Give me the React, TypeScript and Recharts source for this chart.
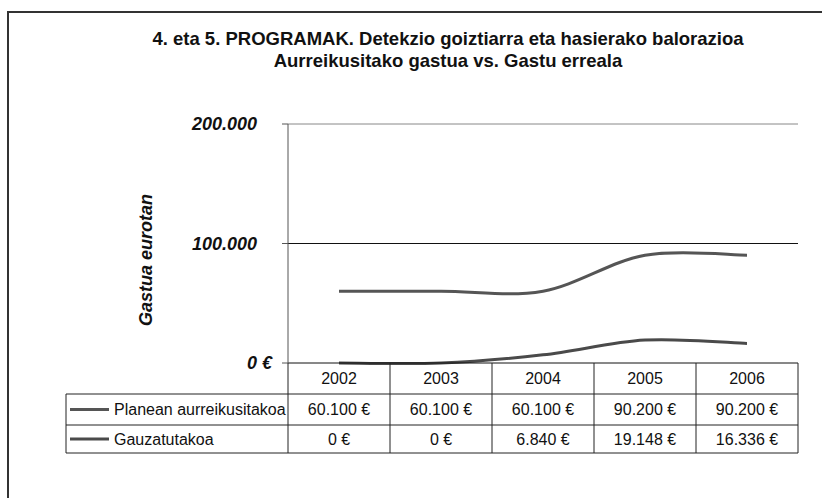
import React from "react";
import {
  LineChart,
  Line,
  XAxis,
  YAxis,
  ReferenceLine,
} from "recharts";

const years = ["2002", "2003", "2004", "2005", "2006"];
const planned = [60100, 60100, 60100, 90200, 90200];
const spent = [0, 0, 6840, 19148, 16336];
const yTicks = [0, 100000, 200000];

const seriesNames = ["Planean aurreikusitakoa", "Gauzatutakoa"];
const seriesColors = ["#555555", "#4a4a4a"];

const data = years.map((y, i) => ({
  year: y,
  planned: planned[i],
  spent: spent[i],
}));

const fmtEuro = (v: number) =>
  v.toLocaleString("de-DE").replace(/,/g, ".") + " €";

// excel style smoothed line (catmull-rom)
const excelSmooth = (context: any) => {
  let pts: number[][] = [];
  return {
    areaStart() {},
    areaEnd() {},
    lineStart() {
      pts = [];
    },
    point(x: number, y: number) {
      pts.push([+x, +y]);
    },
    lineEnd() {
      if (!pts.length) return;
      context.moveTo(pts[0][0], pts[0][1]);
      for (let i = 0; i < pts.length - 1; i++) {
        const p0 = pts[Math.max(i - 1, 0)];
        const p1 = pts[i];
        const p2 = pts[i + 1];
        const p3 = pts[Math.min(i + 2, pts.length - 1)];
        context.bezierCurveTo(
          p1[0] + (p2[0] - p0[0]) / 6,
          p1[1] + (p2[1] - p0[1]) / 6,
          p2[0] - (p3[0] - p1[0]) / 6,
          p2[1] - (p3[1] - p1[1]) / 6,
          p2[0],
          p2[1]
        );
      }
    },
  };
};

const font = "'Liberation Sans', Arial, Helvetica, sans-serif";

const YTick = (props: any) => {
  const { x, y, payload } = props;
  const v = payload.value;
  const label = v === 0 ? "0 €" : v.toLocaleString("de-DE").replace(/,/g, ".");
  return (
    <text
      x={v === 0 ? x : x - 15}
      y={y}
      dy="0.36em"
      textAnchor="end"
      fontFamily={font}
      fontSize={18}
      fontWeight="bold"
      fontStyle="italic"
      fill="#111"
    >
      {label}
    </text>
  );
};

const HEADER_H = 31;
const ROW1_H = 31;
const ROW2_H = 28;
const LABEL_W = 222;

// each x tick draws its column of the data table
const TableTick = (props: any) => {
  const { x, y, index } = props;
  const w = 102;
  const left = x - w / 2;
  const rows = [planned, spent];
  const r1 = y + HEADER_H;
  const r2 = r1 + ROW1_H;
  const r3 = r2 + ROW2_H;
  return (
    <g fontFamily={font} fontSize={16} fill="#111">
      <text x={x} y={y + HEADER_H / 2} dy="0.36em" textAnchor="middle">
        {years[index]}
      </text>
      {rows.map((vals, ri) => (
        <text
          key={ri}
          x={x}
          y={(ri === 0 ? r1 + ROW1_H / 2 : r2 + ROW2_H / 2)}
          dy="0.36em"
          textAnchor="middle"
        >
          {fmtEuro(vals[index])}
        </text>
      ))}
      <line x1={left + w} y1={y} x2={left + w} y2={r3} stroke="#222" />
      <line x1={left} y1={r1} x2={left + w} y2={r1} stroke="#222" />
      <line x1={left} y1={r2} x2={left + w} y2={r2} stroke="#222" />
      <line x1={left} y1={r3} x2={left + w} y2={r3} stroke="#222" />
      {index === 0 && (
        <g>
          <line x1={left} y1={y} x2={left} y2={r3} stroke="#222" />
          <line x1={left - LABEL_W} y1={r1} x2={left} y2={r1} stroke="#222" />
          <line x1={left - LABEL_W} y1={r2} x2={left} y2={r2} stroke="#222" />
          <line x1={left - LABEL_W} y1={r3} x2={left} y2={r3} stroke="#222" />
          <line x1={left - LABEL_W} y1={r1} x2={left - LABEL_W} y2={r3} stroke="#222" />
          {seriesNames.map((n, i) => {
            const cy = i === 0 ? r1 + ROW1_H / 2 : r2 + ROW2_H / 2;
            return (
              <g key={n}>
                <line
                  x1={left - LABEL_W + 4}
                  y1={cy}
                  x2={left - LABEL_W + 43}
                  y2={cy}
                  stroke={seriesColors[i]}
                  strokeWidth={3}
                />
                <text x={left - LABEL_W + 48} y={cy} dy="0.36em">
                  {n}
                </text>
              </g>
            );
          })}
        </g>
      )}
    </g>
  );
};

const App = () => {
  return (
    <div
      style={{
        position: "absolute",
        left: 0,
        top: 0,
        width: 822,
        height: 498,
        overflow: "hidden",
        background: "#fff",
      }}
    >
      <div
        style={{
          position: "absolute",
          left: 7,
          top: 11,
          width: 840,
          height: 520,
          border: "2px solid #333",
        }}
      />
      <div
        style={{
          position: "absolute",
          left: 0,
          top: 28,
          width: 896,
          textAlign: "center",
          fontFamily: font,
          fontWeight: "bold",
          fontSize: 18.5,
          lineHeight: "22px",
          color: "#111",
        }}
      >
        4. eta 5. PROGRAMAK. Detekzio goiztiarra eta hasierako balorazioa
        <br />
        Aurreikusitako gastua vs. Gastu erreala
      </div>
      <div style={{ position: "absolute", left: 0, top: 0 }}>
        <LineChart
          width={822}
          height={498}
          data={data}
          margin={{ top: 124, right: 24, left: 0, bottom: 35 }}
        >
          <XAxis
            dataKey="year"
            height={100}
            padding={{ left: 51, right: 51 }}
            axisLine={{ stroke: "#111" }}
            tickLine={false}
            tickSize={0}
            tickMargin={0}
            interval={0}
            tick={<TableTick />}
          />
          <YAxis
            yAxisId="left"
            width={288}
            domain={[0, 200000]}
            ticks={yTicks}
            axisLine={{ stroke: "#555" }}
            tickLine={{ stroke: "#555" }}
            tickSize={6}
            tickMargin={10}
            tick={<YTick />}
            label={{
              content: () => (
                <text
                  x={146}
                  y={260}
                  transform="rotate(-90 146 260)"
                  textAnchor="middle"
                  dominantBaseline="central"
                  fontFamily={font}
                  fontSize={18}
                  fontWeight="bold"
                  fontStyle="italic"
                  fill="#111"
                >
                  Gastua eurotan
                </text>
              ),
            }}
          />
          <YAxis
            yAxisId="right"
            orientation="right"
            width={0}
            domain={[0, 200000]}
            tick={false}
            tickLine={false}
            axisLine={{ stroke: "#888" }}
          />
          <ReferenceLine yAxisId="left" y={200000} stroke="#888" />
          <ReferenceLine yAxisId="left" y={100000} stroke="#111" />
          <Line
            yAxisId="left"
            dataKey="planned"
            name={seriesNames[0]}
            type={excelSmooth as any}
            stroke={seriesColors[0]}
            strokeWidth={3}
            dot={false}
            isAnimationActive={false}
          />
          <Line
            yAxisId="left"
            dataKey="spent"
            name={seriesNames[1]}
            type={excelSmooth as any}
            stroke={seriesColors[1]}
            strokeWidth={3}
            dot={false}
            isAnimationActive={false}
          />
        </LineChart>
      </div>
    </div>
  );
};

export default App;
